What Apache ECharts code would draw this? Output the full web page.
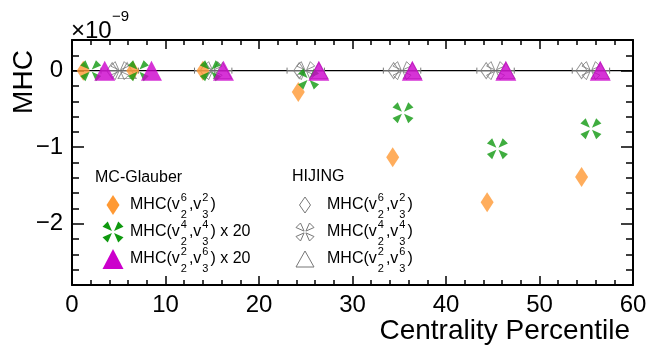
<!DOCTYPE html>
<html>
<head>
<meta charset="utf-8">
<script src="https://cdn.jsdelivr.net/npm/echarts@6/dist/echarts.min.js"></script>
<style>
html, body { margin: 0; padding: 0; background: #fff; }
#chart { width: 650px; height: 347px; }
</style>
</head>
<body>
<div id="chart"></div>
<script>
// values in units of 1e-9
var glauber62X = [1.2, 6.5, 14.0, 24.2, 34.3, 44.4, 54.5];
var glauber62Y = [0, 0, 0, -0.28, -1.13, -1.72, -1.39];
var glauber44X = [2.0, 7.1, 14.8, 25.3, 35.4, 45.5, 55.5];
var glauber44Y = [0, 0, 0, -0.11, -0.55, -1.02, -0.76];
var glauber26X = [3.5, 8.5, 16.2, 26.4, 36.4, 46.4, 56.5];
var glauber26Y = [0, 0, 0, 0, 0, 0, 0];

var hij62X = [4.3, 14.3, 24.3, 34.4, 44.3, 54.5];
var hij44X = [5.1, 15.1, 25.0, 35.3, 45.3, 55.5];
var hij26X = [5.9, 16.1, 26.4, 36.4, 46.4, 56.5];
var hijY = [0, 0, 0, 0, 0, 0];
var hijErr = [2, 2, 2, 2, 2, 2];

var xTickLabels = [0, 10, 20, 30, 40, 50, 60];
var yTickLabels = [-2, -1, 0];

var labelTokens = ['MHC(v', ['6', '2'], ',v', ['2', '3'], ')'];
var labelTokens44 = ['MHC(v', ['4', '2'], ',v', ['4', '3'], ')'];
var labelTokens26 = ['MHC(v', ['2', '2'], ',v', ['6', '3'], ')'];

var FONT = '"Liberation Sans", Arial, Helvetica, sans-serif';
var ORANGE = '#ff9933', GREEN = '#0f990f', MAGENTA = '#cc00cc', GRAY = '#777777';
var PINWHEEL = 'path://M9 9L0 5L5 0Z M11 9L15 0L20 5Z M11 11L20 15L15 20Z M9 11L5 20L0 15Z';

function pairs(xs, ys) {
	var out = [];
	for (var i = 0; i < xs.length; i++) out.push([xs[i], ys[i]]);
	return out;
}

var ctx = document.createElement('canvas').getContext('2d');
function textWidth(t, size) {
	ctx.font = size + 'px ' + FONT;
	return ctx.measureText(t).width;
}

// legend label with stacked super/subscripts
function labelGraphics(x, y, tokens, suffix) {
	var els = [];
	var cx = x;
	var tokList = tokens.slice();
	if (suffix) tokList.push(suffix);
	tokList.forEach(function (tk) {
		if (typeof tk === 'string') {
			els.push({ type: 'text', x: cx, y: y, style: { text: tk, font: '16px ' + FONT, fill: '#000', align: 'left', verticalAlign: 'middle' } });
			cx += textWidth(tk, 16);
		} else {
			cx += 1;
			els.push({ type: 'text', x: cx, y: y - 7, style: { text: tk[0], font: '11px ' + FONT, fill: '#000', align: 'left', verticalAlign: 'middle' } });
			els.push({ type: 'text', x: cx, y: y + 10, style: { text: tk[1], font: '11px ' + FONT, fill: '#000', align: 'left', verticalAlign: 'middle' } });
			cx += Math.max(textWidth(tk[0], 11), textWidth(tk[1], 11)) + 2;
		}
	});
	return els;
}

function pinwheelShape(cx, cy, s, style) {
	var k = s / 20;
	var tris = [
		[[9, 9], [0, 5], [5, 0]], [[11, 9], [15, 0], [20, 5]],
		[[11, 11], [20, 15], [15, 20]], [[9, 11], [5, 20], [0, 15]]
	];
	return tris.map(function (t) {
		return { type: 'polygon', shape: { points: t.map(function (p) { return [cx + (p[0] - 10) * k, cy + (p[1] - 10) * k]; }) }, style: style };
	});
}
function diamondShape(cx, cy, w, h, style) {
	return { type: 'polygon', shape: { points: [[cx, cy - h / 2], [cx + w / 2, cy], [cx, cy + h / 2], [cx - w / 2, cy]] }, style: style };
}
function triangleShape(cx, cy, w, h, style) {
	return { type: 'polygon', shape: { points: [[cx, cy - h / 2], [cx + w / 2, cy + h / 2], [cx - w / 2, cy + h / 2]] }, style: style };
}

var filled = function (c) { return { fill: c }; };
var open = { fill: 'none', stroke: GRAY, lineWidth: 1 };

var graphics = [];
// axis titles
graphics.push({ type: 'text', x: 24, y: 82, rotation: Math.PI / 2, style: { text: 'MHC', font: '28px ' + FONT, fill: '#000', align: 'center', verticalAlign: 'middle' } });
graphics.push({ type: 'text', x: 630, y: 331, style: { text: 'Centrality Percentile', font: '28px ' + FONT, fill: '#000', align: 'right', verticalAlign: 'middle' } });
graphics.push({ type: 'text', x: 71, y: 31, style: { text: '\u00d710', font: '24px ' + FONT, fill: '#000', align: 'left', verticalAlign: 'middle' } });
graphics.push({ type: 'text', x: 112, y: 17, style: { text: '\u22129', font: '15px ' + FONT, fill: '#000', align: 'left', verticalAlign: 'middle' } });

// legend MC-Glauber
graphics.push({ type: 'text', x: 95, y: 178, style: { text: 'MC-Glauber', font: '16px ' + FONT, fill: '#000', align: 'left', verticalAlign: 'middle' } });
graphics.push(diamondShape(113, 205, 13, 20, filled(ORANGE)));
graphics = graphics.concat(pinwheelShape(113, 232, 21, filled(GREEN)));
graphics.push(triangleShape(113, 259, 21, 20, filled(MAGENTA)));
graphics = graphics.concat(labelGraphics(130, 205, labelTokens));
graphics = graphics.concat(labelGraphics(130, 232, labelTokens44, ' x 20'));
graphics = graphics.concat(labelGraphics(130, 259, labelTokens26, ' x 20'));

// legend HIJING
graphics.push({ type: 'text', x: 292, y: 177, style: { text: 'HIJING', font: '16px ' + FONT, fill: '#000', align: 'left', verticalAlign: 'middle' } });
graphics.push(diamondShape(305, 205, 11, 16, open));
graphics = graphics.concat(pinwheelShape(305, 232, 18, open));
graphics.push(triangleShape(305, 259, 18, 16, open));
graphics = graphics.concat(labelGraphics(327, 205, labelTokens));
graphics = graphics.concat(labelGraphics(327, 232, labelTokens44));
graphics = graphics.concat(labelGraphics(327, 259, labelTokens26));

var chart = echarts.init(document.getElementById('chart'));

var axisLine = { show: true, onZero: false, lineStyle: { color: '#000', width: 2 } };
function xAxisDef(pos, labels) {
	return {
		type: 'value', position: pos, min: 0, max: 60, interval: 10,
		axisLine: axisLine,
		axisTick: { show: true, inside: true, length: 9, lineStyle: { color: '#000', width: 1.5 } },
		minorTick: { show: true, splitNumber: 5, length: 5, lineStyle: { color: '#000', width: 1.5 } },
		axisLabel: labels ? { show: true, margin: 8, color: '#000', fontSize: 24, fontFamily: FONT, customValues: xTickLabels } : { show: false },
		splitLine: { show: false }, minorSplitLine: { show: false }
	};
}
function yAxisDef(pos, major, labels) {
	return {
		type: 'value', position: pos, min: -2.8, max: 0.4, interval: 0.2,
		axisLine: major ? { show: false, onZero: false } : axisLine,
		axisTick: major
			? { show: true, inside: true, length: 12, customValues: yTickLabels, lineStyle: { color: '#000', width: 1.5 } }
			: { show: true, inside: true, length: 7, lineStyle: { color: '#000', width: 1.5 } },
		axisLabel: labels ? {
			show: true, margin: 9, color: '#000', fontSize: 24, fontFamily: FONT, customValues: yTickLabels,
			formatter: function (v) { return v < 0 ? '\u2212' + Math.abs(v) : String(v); }
		} : { show: false },
		splitLine: { show: false }
	};
}

var option = {
	animation: false,
	backgroundColor: '#fff',
	textStyle: { fontFamily: FONT },
	grid: { left: 72, right: 17, top: 40, bottom: 62, containLabel: false },
	xAxis: [xAxisDef('bottom', true), xAxisDef('top', false)],
	yAxis: [yAxisDef('left', false, true), yAxisDef('left', true, false), yAxisDef('right', false, false), yAxisDef('right', true, false)],
	graphic: { elements: graphics },
	series: [
		{
			type: 'line', data: [[0, 0], [60, 0]], symbol: 'none', z: 1,
			lineStyle: { color: '#000', width: 1.3 }
		},
		{
			type: 'custom', z: 2,
			data: hij44X.map(function (x, i) { return [x, hijY[i], hijErr[i]]; }),
			renderItem: function (params, api) {
				var x = api.value(0), y = api.value(1), e = api.value(2);
				var a = api.coord([x - e, y]), b = api.coord([x + e, y]);
				var st = { stroke: GRAY, lineWidth: 1 };
				return {
					type: 'group', children: [
						{ type: 'line', shape: { x1: a[0], y1: a[1], x2: b[0], y2: b[1] }, style: st },
						{ type: 'line', shape: { x1: a[0], y1: a[1] - 3, x2: a[0], y2: a[1] + 3 }, style: st },
						{ type: 'line', shape: { x1: b[0], y1: b[1] - 3, x2: b[0], y2: b[1] + 3 }, style: st }
					]
				};
			}
		},
		{ type: 'scatter', z: 3, data: pairs(hij62X, hijY), symbol: 'diamond', symbolSize: [11, 16], itemStyle: { color: 'rgba(0,0,0,0)', borderColor: GRAY, borderWidth: 1 } },
		{ type: 'scatter', z: 3, data: pairs(hij44X, hijY), symbol: PINWHEEL, symbolSize: 18, itemStyle: { color: 'rgba(0,0,0,0)', borderColor: GRAY, borderWidth: 1 } },
		{ type: 'scatter', z: 3, data: pairs(hij26X, hijY), symbol: 'triangle', symbolSize: [18, 16], itemStyle: { color: 'rgba(0,0,0,0)', borderColor: GRAY, borderWidth: 1 } },
		{ type: 'scatter', z: 4, data: pairs(glauber62X, glauber62Y), symbol: 'diamond', symbolSize: [13, 20], itemStyle: { color: ORANGE } },
		{ type: 'scatter', z: 4, data: pairs(glauber44X, glauber44Y), symbol: PINWHEEL, symbolSize: 21, itemStyle: { color: GREEN } },
		{ type: 'scatter', z: 4, data: pairs(glauber26X, glauber26Y), symbol: 'triangle', symbolSize: [21, 20], itemStyle: { color: MAGENTA } }
	]
};
chart.setOption(option);
</script>
</body>
</html>
